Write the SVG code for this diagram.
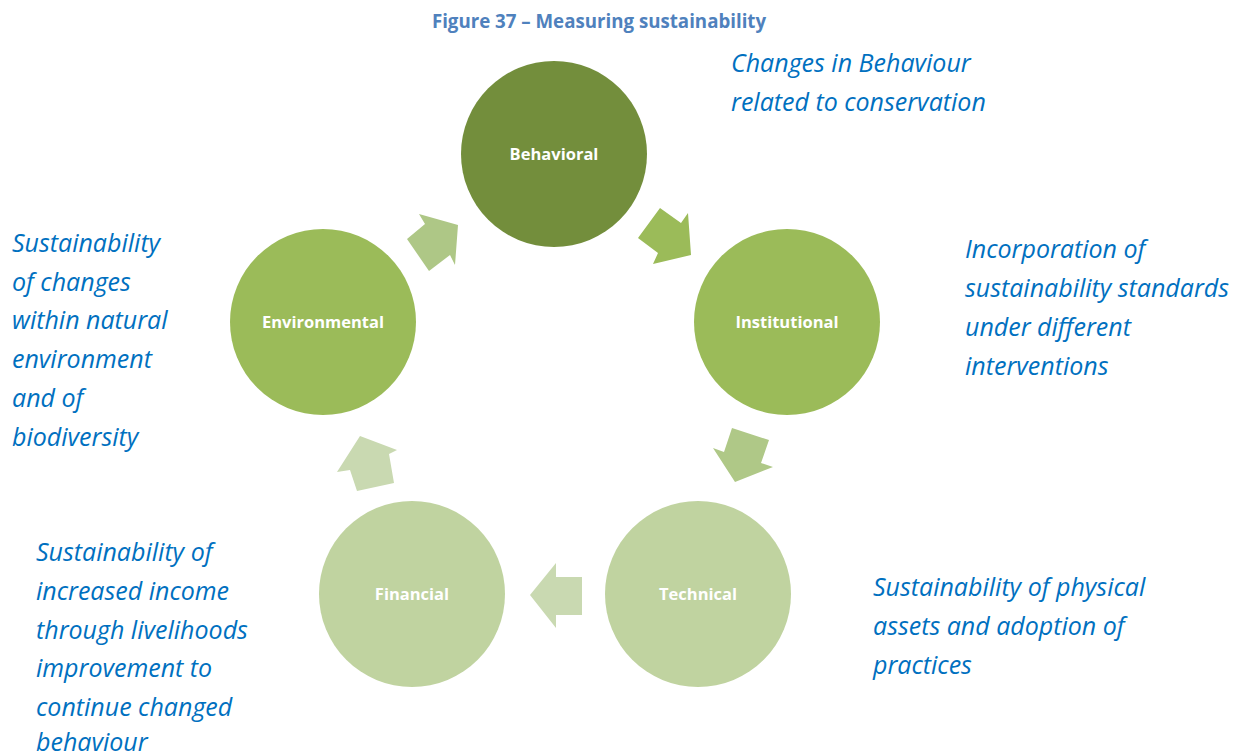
<svg xmlns="http://www.w3.org/2000/svg" width="1242" height="755" viewBox="0 0 1242 755">
<style>
.title{font-family:"Open Sans","Liberation Sans",sans-serif;font-weight:bold;font-size:18.7px;fill:#4F81BD}
.lbl{font-family:"Open Sans","Liberation Sans",sans-serif;font-weight:bold;font-size:16.5px;fill:#ffffff;text-anchor:middle}
.note{font-family:"Open Sans","Liberation Sans",sans-serif;font-style:italic;font-size:25px;fill:#0070C0}
</style>
<rect width="1242" height="755" fill="#ffffff"/>
<text class="title" x="599" y="28" text-anchor="middle">Figure 37 – Measuring sustainability</text>
<g id="connectors">
<polygon points="458,225 419,214 425,224 407,239 429,271 450,255 455,265" fill="#AEC786"/>
<polygon points="691,255 688,213 681,223 660,208 638,238 658,253 653,264" fill="#9BBB59"/>
<polygon points="735,482 773,467 761,463 769,440 732,428 724,452 713,448" fill="#AFC887"/>
<polygon points="530,595 556,563 556,577 582,577 582,615 556,615 556,628" fill="#C9D9B1"/>
<polygon points="360,436 397,450 389,454 394,483 357,491 350,470 337,472" fill="#C9D9B1"/>
</g>
<g id="behavioral"><circle cx="554" cy="154" r="93" fill="#738E3C"/><text class="lbl" x="554" y="160">Behavioral</text></g>
<g id="institutional"><circle cx="787" cy="322" r="93" fill="#9BBB59"/><text class="lbl" x="787" y="328">Institutional</text></g>
<g id="technical"><circle cx="698" cy="594" r="93" fill="#C0D3A0"/><text class="lbl" x="698" y="600">Technical</text></g>
<g id="financial"><circle cx="412" cy="594" r="93" fill="#C0D3A0"/><text class="lbl" x="412" y="600">Financial</text></g>
<g id="environmental"><circle cx="323" cy="322" r="93" fill="#9BBB59"/><text class="lbl" x="323" y="328">Environmental</text></g>
<g id="notes">
<text class="note"><tspan x="731" y="72">Changes in Behaviour</tspan><tspan x="731" y="111">related to conservation</tspan></text>
<text class="note"><tspan x="965" y="258">Incorporation of</tspan><tspan x="965" y="297">sustainability standards</tspan><tspan x="965" y="336">under different</tspan><tspan x="965" y="375">interventions</tspan></text>
<text class="note"><tspan x="12" y="252">Sustainability</tspan><tspan x="12" y="291">of changes</tspan><tspan x="12" y="329">within natural</tspan><tspan x="12" y="368">environment</tspan><tspan x="12" y="407">and of</tspan><tspan x="12" y="446">biodiversity</tspan></text>
<text class="note"><tspan x="36" y="561">Sustainability of</tspan><tspan x="36" y="600">increased income</tspan><tspan x="36" y="639">through livelihoods</tspan><tspan x="36" y="677">improvement to</tspan><tspan x="36" y="716">continue changed</tspan><tspan x="36" y="751">behaviour</tspan></text>
<text class="note"><tspan x="873" y="596">Sustainability of physical</tspan><tspan x="873" y="635">assets and adoption of</tspan><tspan x="873" y="674">practices</tspan></text>
</g>
</svg>
